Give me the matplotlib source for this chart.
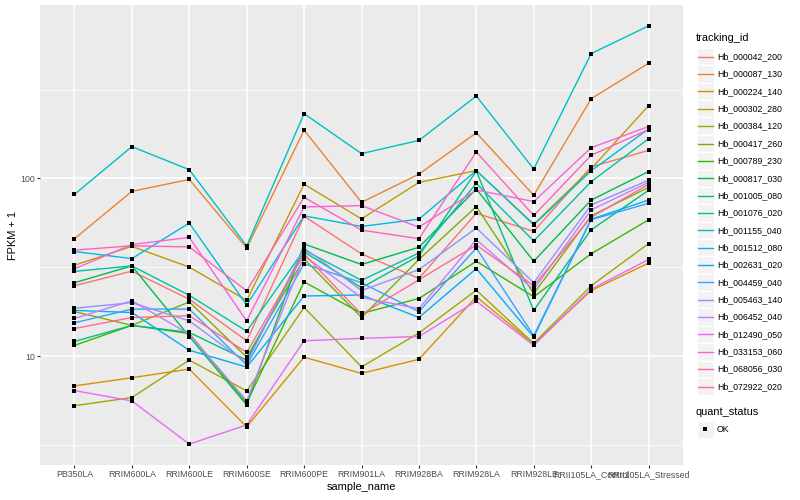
import numpy as np
import matplotlib
matplotlib.use('Agg')
import matplotlib.pyplot as plt
from matplotlib.patches import Rectangle
from matplotlib.ticker import NullFormatter

plt.rcParams['font.family'] = ['Liberation Sans', 'DejaVu Sans']

# ---- data (FPKM + 1) ----
samples = ['PB350LA', 'RRIM600LA', 'RRIM600LE', 'RRIM600SE', 'RRIM600PE', 'RRIM901LA',
           'RRIM928BA', 'RRIM928LA', 'RRIM928LE', 'RRII105LA_Control', 'RRII105LA_Stressed']

tracking_ids = ['Hb_000042_200', 'Hb_000087_130', 'Hb_000224_140', 'Hb_000302_280',
                'Hb_000384_120', 'Hb_000417_260', 'Hb_000789_230', 'Hb_000817_030',
                'Hb_001005_080', 'Hb_001076_020', 'Hb_001155_040', 'Hb_001512_080',
                'Hb_002631_020', 'Hb_004459_040', 'Hb_005463_140', 'Hb_006452_040',
                'Hb_012490_050', 'Hb_033153_060', 'Hb_068056_030', 'Hb_072922_020']

hb_000042_200 = [24.9, 30.1, 20.9, 12.2, 61.3, 37.6, 27.4, 63.7, 50.4, 116.2, 143.9]
hb_000087_130 = [45.8, 84.6, 98.7, 40.6, 187.0, 73.4, 105.7, 180.7, 80.4, 281.0, 445.0]
hb_000224_140 = [6.8, 7.56, 8.46, 4.0, 9.87, 8.0, 9.6, 21.6, 11.7, 23.4, 33.4]
hb_000302_280 = [32.5, 41.5, 31.7, 20.6, 92.9, 59.2, 95.0, 110.8, 55.3, 113.3, 256.8]
hb_000384_120 = [5.26, 5.85, 9.5, 6.37, 18.8, 8.7, 13.5, 23.5, 11.8, 24.9, 43.0]
hb_000417_260 = [17.8, 14.9, 20.2, 9.87, 35.3, 16.5, 35.0, 69.5, 22.5, 61.6, 89.1]
hb_000789_230 = [11.5, 14.9, 13.4, 5.46, 26.2, 17.4, 21.1, 34.2, 21.6, 37.7, 58.5]
hb_000817_030 = [25.9, 32.2, 12.9, 5.32, 42.8, 32.8, 41.0, 87.2, 34.2, 75.6, 109.4]
hb_001005_080 = [12.1, 14.9, 13.6, 9.5, 38.6, 24.3, 36.7, 110.1, 18.1, 51.4, 85.7]
hb_001076_020 = [30.0, 32.2, 22.0, 13.8, 39.6, 26.7, 38.1, 93.8, 44.5, 95.9, 167.3]
hb_001155_040 = [81.4, 151.0, 112.0, 41.7, 231.6, 138.0, 163.7, 291.0, 113.0, 504.0, 722.0]
hb_001512_080 = [38.8, 35.4, 56.1, 19.4, 61.6, 53.7, 59.0, 110.8, 54.8, 110.4, 190.2]
hb_002631_020 = [18.1, 17.6, 10.8, 8.68, 21.8, 22.1, 16.5, 31.1, 12.8, 59.0, 75.6]
hb_004459_040 = [15.4, 18.4, 18.4, 8.91, 33.1, 25.9, 17.8, 40.6, 13.05, 58.6, 72.5]
hb_005463_140 = [18.6, 20.0, 15.8, 9.14, 40.6, 23.4, 30.7, 52.6, 25.9, 70.9, 97.8]
hb_006452_040 = [16.3, 20.5, 13.3, 5.61, 36.7, 21.4, 18.5, 45.2, 23.7, 66.5, 95.0]
hb_012490_050 = [6.4, 5.6, 3.2, 4.1, 12.2, 12.6, 12.9, 20.4, 11.5, 23.8, 35.0]
hb_033153_060 = [31.0, 42.5, 46.6, 15.8, 69.1, 70.4, 53.2, 86.1, 74.1, 149.0, 196.0]
hb_068056_030 = [39.5, 41.8, 41.2, 23.3, 78.3, 51.2, 45.8, 141.0, 61.9, 135.0, 188.6]
hb_072922_020 = [14.3, 16.5, 16.9, 10.5, 37.6, 17.2, 26.9, 42.2, 24.9, 60.5, 92.6]

series = [hb_000042_200, hb_000087_130, hb_000224_140, hb_000302_280, hb_000384_120,
          hb_000417_260, hb_000789_230, hb_000817_030, hb_001005_080, hb_001076_020,
          hb_001155_040, hb_001512_080, hb_002631_020, hb_004459_040, hb_005463_140,
          hb_006452_040, hb_012490_050, hb_033153_060, hb_068056_030, hb_072922_020]

# ggplot hue palette, 20 levels
colors = ['#F8766D', '#EA8331', '#D89000', '#C09B00', '#A3A500', '#7CAE00', '#39B600',
          '#00BB4E', '#00BF7D', '#00C1A3', '#00BFC4', '#00BAE0', '#00B0F6', '#35A2FF',
          '#9590FF', '#C77CFF', '#E76BF3', '#FA62DB', '#FF62BC', '#FF6C91']

W, H = 800, 500
fig = plt.figure(figsize=(8, 5), dpi=100)
ax = fig.add_axes([40 / W, 35 / H, 643 / W, 460 / H])
ax.set_facecolor('#EBEBEB')
for s in ax.spines.values():
    s.set_visible(False)

x = np.arange(len(samples))
for vals, c in zip(series, colors):
    ax.plot(x, vals, color=c, lw=1.0, zorder=3)
for vals in series:
    ax.plot(x, vals, 's', color='black', ms=2.4, mew=0, zorder=4)

ax.set_yscale('log')
allv = np.log10(np.concatenate([np.array(v) for v in series]))
lo, hi = allv.min(), allv.max()
pad = (hi - lo) * 0.05
ax.set_ylim(10 ** (lo - pad), 10 ** (hi + pad))
ax.set_xlim(-0.6, len(samples) - 0.4)

ax.set_yticks([10, 100])
ax.set_yticklabels(['10', '100'])
ax.set_yticks([10 ** 0.5, 10 ** 1.5, 10 ** 2.5], minor=True)
ax.yaxis.set_minor_formatter(NullFormatter())
ax.set_xticks(x)
ax.set_xticklabels(samples)

ax.set_axisbelow(True)
ax.grid(which='major', color='white', lw=1.1)
ax.grid(which='minor', axis='y', color='white', lw=0.55)
ax.tick_params(which='major', length=2.0, width=0.8, color='#333333',
               labelcolor='#4D4D4D', labelsize=6.3, pad=1.5)
ax.tick_params(which='minor', length=0)

ax.set_xlabel('sample_name', fontsize=7.9, color='black', labelpad=2)
ax.set_ylabel('FPKM + 1', fontsize=7.9, color='black', labelpad=2)

# ---- legends, laid out in pixel space on the right ----
lg = fig.add_axes([0, 0, 1, 1], facecolor='none')
lg.set_xlim(0, W)
lg.set_ylim(H, 0)
lg.axis('off')

lg.text(696, 38, 'tracking_id', fontsize=7.9, va='center', ha='left')
step = 17.36
y0 = 56.7
for i, (name, c) in enumerate(zip(tracking_ids, colors)):
    yc = y0 + i * step
    lg.add_patch(Rectangle((696.5, yc - step / 2), 17, step, facecolor='#F2F2F2',
                           edgecolor='white', lw=1))
    lg.plot([698, 713], [yc, yc], color=c, lw=1.0)
    lg.text(717, yc, name, fontsize=6.3, va='center', ha='left')

lg.text(696, 412, 'quant_status', fontsize=7.9, va='center', ha='left')
lg.add_patch(Rectangle((696.5, 429.3 - step / 2), 17, step, facecolor='#F2F2F2',
                       edgecolor='white', lw=1))
lg.plot([705], [429.3], 's', color='black', ms=2.4, mew=0)
lg.text(717, 429.3, 'OK', fontsize=6.3, va='center', ha='left')

fig.savefig('out.png', dpi=100)
